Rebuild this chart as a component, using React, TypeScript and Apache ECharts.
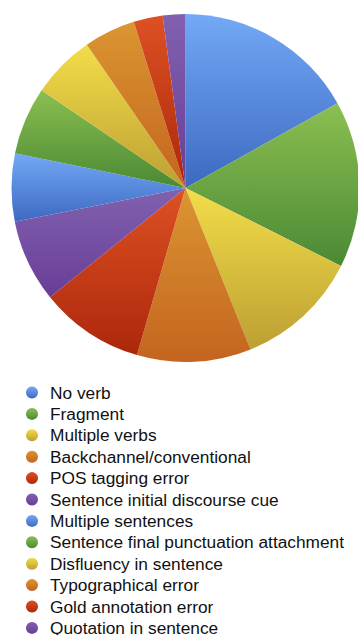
import React, { useEffect, useRef } from "react";
import * as echarts from "echarts";

const categories = [
  "No verb",
  "Fragment",
  "Multiple verbs",
  "Backchannel/conventional",
  "POS tagging error",
  "Sentence initial discourse cue",
  "Multiple sentences",
  "Sentence final punctuation attachment",
  "Disfluency in sentence",
  "Typographical error",
  "Gold annotation error",
  "Quotation in sentence",
];

const values = [16.9, 15.5, 11.5, 10.6, 9.7, 7.7, 6.3, 6.3, 5.9, 4.8, 2.7, 2.1];

const palette: [string, string][] = [
  ["#73A9F6", "#3D69C1"],
  ["#8CBF51", "#4A8934"],
  ["#F3DD49", "#BD9F33"],
  ["#DB9631", "#C4641F"],
  ["#DD5123", "#AC270B"],
  ["#8161B0", "#693D96"],
];

export default function App() {
  const ref = useRef<HTMLDivElement>(null);
  useEffect(() => {
    document.body.style.margin = "0";
    document.body.style.overflow = "hidden";
    const chart = echarts.init(ref.current!, undefined, { renderer: "svg" });
    const data = categories.map((name, i) => {
      const [c1, c2] = palette[i % palette.length];
      return {
        name,
        value: values[i],
        itemStyle: {
          color: new echarts.graphic.LinearGradient(0, 0, 0, 1, [
            { offset: 0, color: c1 },
            { offset: 1, color: c2 },
          ]),
        },
      };
    });
    chart.setOption({
      animation: false,
      legend: {
        orient: "vertical",
        left: 21,
        top: 379,
        height: 300,
        icon: "circle",
        itemWidth: 12,
        itemHeight: 12,
        itemGap: 4.4,
        textStyle: {
          fontFamily: "Liberation Sans, Arial, sans-serif",
          fontSize: 17.3,
          lineHeight: 16,
          color: "#111",
          padding: [0, 0, 0, 7],
        },
        data: categories,
      },
      series: [
        {
          type: "pie",
          center: [185.5, 188],
          radius: 174,
          startAngle: 90,
          clockwise: true,
          label: { show: false },
          labelLine: { show: false },
          itemStyle: { borderWidth: 0 },
          emphasis: { disabled: true },
          data,
        },
      ],
    });
    return () => chart.dispose();
  }, []);
  return <div ref={ref} style={{ width: 358, height: 635 }} />;
}
